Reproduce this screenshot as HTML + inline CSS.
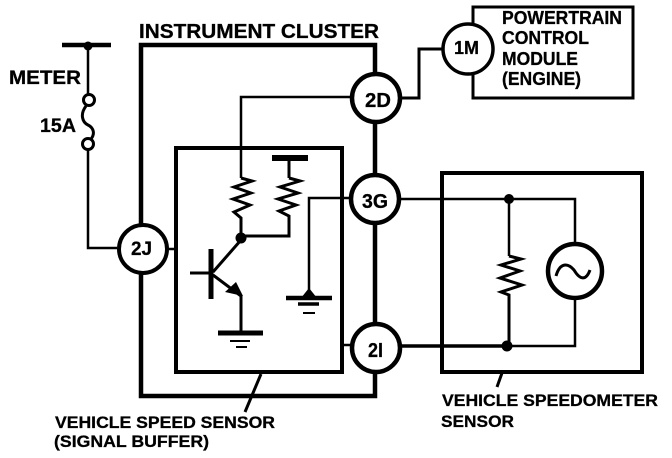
<!DOCTYPE html>
<html><head><meta charset="utf-8"><style>
html,body{margin:0;padding:0;background:#fff;width:672px;height:458px;overflow:hidden}
svg{display:block}
text{font-family:"Liberation Sans",sans-serif;font-weight:bold;fill:#000;stroke:#000;stroke-width:.3}
</style></head><body>
<svg width="672" height="458" viewBox="0 0 672 458" xmlns="http://www.w3.org/2000/svg">
<g fill="none" stroke="#000" stroke-linejoin="miter">
<!-- cluster -->
<path d="M141 224V45H375V74M375 122V175M375 223V324M375 372V396H141V274" stroke-width="4.5"/>
<!-- inner box -->
<path d="M176 148H342V372H176Z" stroke-width="4"/>
<!-- speedometer box -->
<path d="M442 173H642V372H442Z" stroke-width="4"/>
<!-- PCM box -->
<path d="M473 26V7H633V98H473V73" stroke-width="3"/>
<!-- 2D to 1M -->
<path d="M400 98H419V49H443" stroke-width="3"/>
<!-- meter -->
<path d="M62 45H111" stroke-width="4.5"/>
<path d="M88 45V94M88 150V248H117" stroke-width="2.5"/>
<circle cx="89" cy="100" r="5.5" stroke-width="3"/>
<circle cx="88" cy="144" r="5.5" stroke-width="3"/>
<path d="M86 106C80 114 82 122 88 125C94 128 95 134 91 139" stroke-width="3"/>
<!-- 2D line & resistor -->
<path d="M352 97H241V178" stroke-width="2.5"/>
<path d="M241 178L252 181L234 187L251 193L233 199L250 205L234 212L241 218V238" stroke-width="3"/>
<path d="M272 158H308" stroke-width="6"/>
<path d="M289 158V178" stroke-width="3"/>
<path d="M289 178L300 181L280 187L298 193L278 199L296 205L279 211L289 216V236H241" stroke-width="3"/>
<!-- transistor -->
<path d="M211 249V299" stroke-width="5"/>
<path d="M190 273H211" stroke-width="3"/>
<path d="M213 272L241 240" stroke-width="3"/>
<path d="M213 275L241 296V332" stroke-width="3"/>
<path d="M218 333H263" stroke-width="5"/>
<path d="M230 341H250M236 347H247" stroke-width="2"/>
<!-- 3G lines -->
<path d="M352 198H309V291" stroke-width="2.5"/>
<path d="M286 298H332" stroke-width="4.5"/>
<path d="M298 304H319" stroke-width="3.5"/>
<path d="M303 313H315" stroke-width="2"/>
<path d="M399 199H575V243" stroke-width="2.5"/>
<path d="M509 199V256" stroke-width="2.5"/>
<path d="M509 256L521 259L501 265L520 271L500 278L522 285L501 292L509 295V346" stroke-width="3"/>
<circle cx="575" cy="271" r="27" stroke-width="4.5"/>
<path d="M556 276C560 262 568 263 574 270C580 280 586 281 590 270" stroke-width="3"/>
<path d="M575 298V346H508" stroke-width="2.5"/>
<path d="M399 346H508" stroke-width="3.5"/>
<path d="M342 345H352M168 249H176" stroke-width="2.5"/>
<!-- leaders -->
<path d="M261 374L245 412M502 373L497 387" stroke-width="3"/>
</g>
<g fill="#000">
<circle cx="88" cy="46" r="4.5"/>
<circle cx="241" cy="238" r="5.5"/>
<circle cx="509" cy="199" r="5"/>
<circle cx="507" cy="346" r="5.5"/>
<path d="M243 296L225 292L236 282Z"/>
<path d="M309 288L301 298H317Z"/>
<path d="M289 158l-6-3h12z"/>
</g>
<g fill="#fff" stroke="#000">
<circle cx="376" cy="98" r="24" stroke-width="4.5"/>
<circle cx="375" cy="199" r="24" stroke-width="4.5"/>
<circle cx="376" cy="348" r="24" stroke-width="4.5"/>
<circle cx="143" cy="249" r="24" stroke-width="4"/>
<circle cx="468" cy="49" r="25" stroke-width="3.5"/>
</g>
<text x="139" y="38" font-size="20" textLength="240" lengthAdjust="spacingAndGlyphs">INSTRUMENT CLUSTER</text>
<text x="9" y="84" font-size="19" textLength="72" lengthAdjust="spacingAndGlyphs">METER</text>
<text x="40" y="132" font-size="19" textLength="36" lengthAdjust="spacingAndGlyphs">15A</text>
<text x="502" y="24" font-size="18" textLength="120" lengthAdjust="spacingAndGlyphs">POWERTRAIN</text>
<text x="502" y="44" font-size="18" textLength="87" lengthAdjust="spacingAndGlyphs">CONTROL</text>
<text x="502" y="65" font-size="18" textLength="76" lengthAdjust="spacingAndGlyphs">MODULE</text>
<text x="502" y="85" font-size="18" textLength="79" lengthAdjust="spacingAndGlyphs">(ENGINE)</text>
<text x="365" y="107" font-size="20" textLength="26" lengthAdjust="spacingAndGlyphs">2D</text>
<text x="362" y="208" font-size="20" textLength="26" lengthAdjust="spacingAndGlyphs">3G</text>
<text x="368" y="357" font-size="20" textLength="15" lengthAdjust="spacingAndGlyphs">2I</text>
<text x="131" y="255" font-size="19" textLength="21" lengthAdjust="spacingAndGlyphs">2J</text>
<text x="454" y="54" font-size="18" textLength="25" lengthAdjust="spacingAndGlyphs">1M</text>
<text x="55" y="428" font-size="17" textLength="220" lengthAdjust="spacingAndGlyphs">VEHICLE SPEED SENSOR</text>
<text x="54" y="447" font-size="17" textLength="155" lengthAdjust="spacingAndGlyphs">(SIGNAL BUFFER)</text>
<text x="442" y="406" font-size="17" textLength="216" lengthAdjust="spacingAndGlyphs">VEHICLE SPEEDOMETER</text>
<text x="441" y="427" font-size="17" textLength="73" lengthAdjust="spacingAndGlyphs">SENSOR</text>
</svg>
</body></html>
